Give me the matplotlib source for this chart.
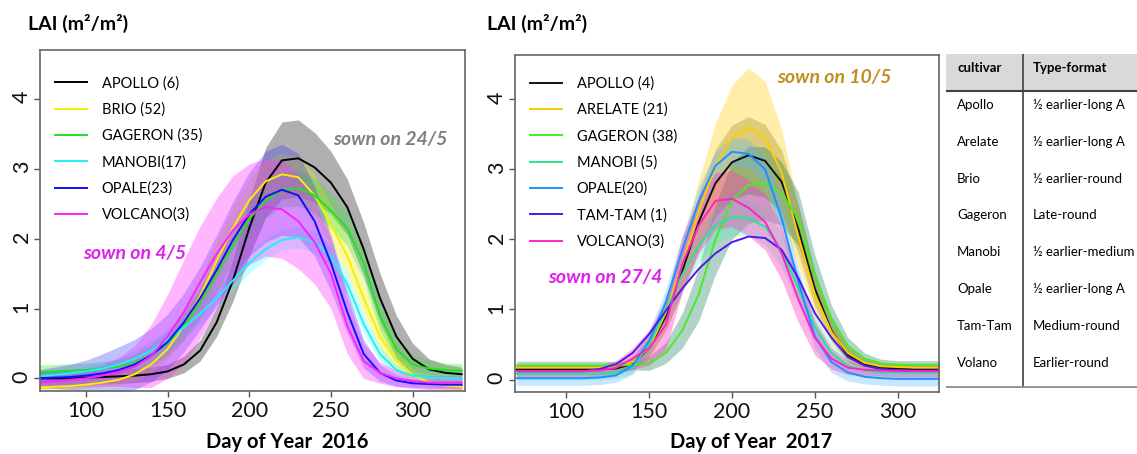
import numpy as np
import matplotlib
matplotlib.use('Agg')
import matplotlib.pyplot as plt

plt.rcParams['font.family'] = ['Lato', 'DejaVu Sans']

# day-of-year grid on which the curves were read (every 10 days)
days = np.arange(70, 331, 10)

# ---- 2016 (mean LAI and spread) ----
apollo16 = [0.0, 0.0, 0.0, 0.01, 0.02, 0.03, 0.04, 0.06, 0.1, 0.2, 0.4, 0.8, 1.4, 2.15, 2.8, 3.12, 3.15, 3.02, 2.8, 2.45, 1.85, 1.15, 0.6, 0.28, 0.13, 0.08, 0.06]
apollo16_sd = [0.1, 0.1, 0.1, 0.1, 0.1, 0.1, 0.1, 0.1, 0.1, 0.12, 0.15, 0.2, 0.3, 0.4, 0.5, 0.55, 0.55, 0.5, 0.45, 0.4, 0.38, 0.35, 0.3, 0.22, 0.15, 0.12, 0.1]
brio16 = [-0.13, -0.12, -0.11, -0.09, -0.06, -0.02, 0.06, 0.2, 0.42, 0.75, 1.18, 1.68, 2.15, 2.55, 2.82, 2.92, 2.88, 2.62, 2.2, 1.75, 1.15, 0.6, 0.25, 0.05, -0.06, -0.1, -0.12]
brio16_sd = [0.05, 0.05, 0.05, 0.05, 0.06, 0.08, 0.1, 0.12, 0.15, 0.2, 0.25, 0.28, 0.3, 0.3, 0.3, 0.3, 0.3, 0.3, 0.28, 0.25, 0.22, 0.2, 0.15, 0.1, 0.06, 0.05, 0.05]
gageron16 = [0.09, 0.1, 0.11, 0.12, 0.14, 0.17, 0.23, 0.33, 0.5, 0.75, 1.08, 1.48, 1.9, 2.28, 2.55, 2.7, 2.72, 2.62, 2.4, 2.15, 1.65, 0.9, 0.42, 0.2, 0.14, 0.12, 0.11]
gageron16_sd = [0.1, 0.1, 0.1, 0.1, 0.1, 0.1, 0.12, 0.15, 0.18, 0.2, 0.22, 0.25, 0.25, 0.25, 0.25, 0.25, 0.25, 0.25, 0.25, 0.25, 0.25, 0.22, 0.18, 0.14, 0.12, 0.1, 0.1]
manobi16 = [0.03, 0.05, 0.07, 0.1, 0.14, 0.2, 0.28, 0.4, 0.55, 0.73, 0.93, 1.15, 1.4, 1.65, 1.85, 1.98, 2.02, 1.95, 1.75, 1.35, 0.78, 0.35, 0.12, 0.04, 0.01, 0.0, 0.0]
manobi16_sd = [0.06, 0.06, 0.06, 0.07, 0.08, 0.1, 0.12, 0.14, 0.15, 0.15, 0.15, 0.15, 0.15, 0.15, 0.15, 0.15, 0.15, 0.15, 0.15, 0.15, 0.13, 0.1, 0.08, 0.06, 0.05, 0.05, 0.05]
opale16 = [0.0, 0.01, 0.02, 0.04, 0.07, 0.12, 0.2, 0.33, 0.52, 0.8, 1.15, 1.55, 1.98, 2.35, 2.6, 2.7, 2.62, 2.25, 1.65, 0.95, 0.35, 0.08, -0.03, -0.07, -0.08, -0.09, -0.09]
opale16_sd = [0.12, 0.15, 0.18, 0.22, 0.28, 0.33, 0.36, 0.38, 0.4, 0.42, 0.45, 0.5, 0.55, 0.6, 0.65, 0.65, 0.6, 0.5, 0.4, 0.3, 0.2, 0.12, 0.08, 0.06, 0.06, 0.05, 0.05]
volcano16 = [-0.05, -0.04, -0.02, 0.0, 0.04, 0.09, 0.17, 0.32, 0.6, 0.95, 1.38, 1.78, 2.12, 2.35, 2.45, 2.42, 2.25, 1.95, 1.5, 0.75, 0.25, 0.08, 0.0, -0.04, -0.06, -0.06, -0.06]
volcano16_sd = [0.1, 0.1, 0.1, 0.12, 0.15, 0.2, 0.3, 0.45, 0.6, 0.75, 0.8, 0.8, 0.78, 0.72, 0.7, 0.7, 0.68, 0.6, 0.5, 0.4, 0.25, 0.15, 0.12, 0.1, 0.1, 0.1, 0.1]

# ---- 2017 ----
apollo17 = [0.15, 0.15, 0.15, 0.15, 0.15, 0.15, 0.16, 0.22, 0.45, 0.9, 1.55, 2.25, 2.8, 3.1, 3.2, 3.12, 2.82, 2.15, 1.3, 0.7, 0.35, 0.22, 0.17, 0.16, 0.15, 0.15, 0.15]
apollo17_sd = [0.06, 0.06, 0.06, 0.06, 0.06, 0.06, 0.06, 0.08, 0.12, 0.2, 0.3, 0.4, 0.48, 0.53, 0.55, 0.52, 0.45, 0.35, 0.25, 0.15, 0.1, 0.07, 0.06, 0.06, 0.06, 0.06, 0.06]
arelate17 = [0.17, 0.17, 0.17, 0.17, 0.17, 0.17, 0.18, 0.25, 0.45, 0.95, 1.65, 2.4, 3.05, 3.45, 3.6, 3.45, 2.95, 2.05, 1.22, 0.68, 0.38, 0.24, 0.19, 0.18, 0.17, 0.17, 0.17]
arelate17_sd = [0.06, 0.06, 0.06, 0.06, 0.06, 0.06, 0.07, 0.1, 0.15, 0.22, 0.32, 0.45, 0.6, 0.75, 0.85, 0.8, 0.62, 0.42, 0.25, 0.15, 0.1, 0.07, 0.06, 0.06, 0.06, 0.06, 0.06]
gageron17 = [0.2, 0.2, 0.2, 0.2, 0.2, 0.2, 0.2, 0.21, 0.23, 0.38, 0.7, 1.22, 2.0, 2.55, 2.78, 2.8, 2.65, 2.3, 1.5, 0.88, 0.48, 0.3, 0.23, 0.21, 0.21, 0.21, 0.21]
gageron17_sd = [0.06, 0.06, 0.06, 0.06, 0.06, 0.06, 0.06, 0.07, 0.1, 0.15, 0.25, 0.38, 0.5, 0.55, 0.55, 0.52, 0.45, 0.38, 0.28, 0.18, 0.12, 0.08, 0.06, 0.06, 0.06, 0.06, 0.06]
manobi17 = [0.08, 0.08, 0.08, 0.08, 0.08, 0.08, 0.1, 0.18, 0.5, 0.98, 1.5, 1.92, 2.2, 2.32, 2.3, 2.18, 1.85, 1.3, 0.75, 0.38, 0.2, 0.13, 0.1, 0.1, 0.1, 0.1, 0.1]
manobi17_sd = [0.08, 0.08, 0.08, 0.08, 0.08, 0.08, 0.08, 0.1, 0.15, 0.2, 0.22, 0.25, 0.25, 0.25, 0.25, 0.25, 0.25, 0.22, 0.18, 0.14, 0.1, 0.08, 0.08, 0.08, 0.08, 0.08, 0.08]
opale17 = [0.02, 0.02, 0.02, 0.02, 0.02, 0.03, 0.06, 0.2, 0.55, 1.1, 1.85, 2.55, 3.05, 3.25, 3.22, 3.0, 2.3, 1.4, 0.62, 0.25, 0.1, 0.04, 0.02, 0.01, 0.01, 0.01, 0.01]
opale17_sd = [0.1, 0.1, 0.1, 0.1, 0.1, 0.1, 0.1, 0.12, 0.15, 0.18, 0.2, 0.2, 0.2, 0.2, 0.2, 0.2, 0.2, 0.2, 0.18, 0.15, 0.12, 0.1, 0.1, 0.1, 0.1, 0.1, 0.1]
tamtam17 = [0.12, 0.12, 0.12, 0.12, 0.12, 0.15, 0.22, 0.38, 0.65, 0.98, 1.3, 1.58, 1.8, 1.96, 2.04, 2.02, 1.85, 1.45, 0.95, 0.6, 0.32, 0.2, 0.15, 0.13, 0.13, 0.13, 0.13]
volcano17 = [0.12, 0.12, 0.12, 0.12, 0.12, 0.13, 0.17, 0.3, 0.45, 0.78, 1.65, 2.2, 2.55, 2.58, 2.45, 2.25, 1.8, 1.15, 0.6, 0.3, 0.17, 0.14, 0.13, 0.12, 0.12, 0.12, 0.12]
volcano17_sd = [0.08, 0.08, 0.08, 0.08, 0.08, 0.08, 0.1, 0.15, 0.25, 0.35, 0.4, 0.4, 0.4, 0.4, 0.4, 0.4, 0.38, 0.33, 0.25, 0.15, 0.1, 0.08, 0.08, 0.08, 0.08, 0.08, 0.08]

labels16 = ['APOLLO (6)', 'BRIO (52)', 'GAGERON (35)', 'MANOBI(17)', 'OPALE(23)', 'VOLCANO(3)']
labels17 = ['APOLLO (4)', 'ARELATE (21)', 'GAGERON (38)', 'MANOBI (5)', 'OPALE(20)', 'TAM-TAM (1)', 'VOLCANO(3)']

cultivars = ['Apollo', 'Arelate', 'Brio', 'Gageron', 'Manobi', 'Opale', 'Tam-Tam', 'Volano']
formats = ['½ earlier-long A', '½ earlier-long A', '½ earlier-round', 'Late-round',
           '½ earlier-medium', '½ earlier-long A', 'Medium-round', 'Earlier-round']


def draw(ax, means, sds, labels, lcolors, fcolors, alphas):
    for m, s, lab, lc, fc, a in zip(means, sds, labels, lcolors, fcolors, alphas):
        m = np.array(m)
        if s is not None:
            s = np.array(s)
            ax.fill_between(days, m - s, m + s, color=fc, alpha=a, lw=0)
        ax.plot(days, m, color=lc, lw=1.4, label=lab, solid_joinstyle='round')


def style(ax, xlim, ylim, anchor):
    ax.set_xlim(*xlim)
    ax.set_ylim(*ylim)
    ax.set_xticks([100, 150, 200, 250, 300])
    ax.set_yticks([0, 1, 2, 3, 4])
    ax.tick_params(direction='out', length=4, width=1, color='#555555',
                   labelcolor='#111111', labelsize=15.5, pad=3)
    ax.tick_params(axis='y', labelrotation=90, pad=2)
    for sp in ax.spines.values():
        sp.set_color('#666666')
        sp.set_linewidth(1.2)
    ax.legend(loc='upper left', bbox_to_anchor=anchor, frameon=False,
              fontsize=10.5, handlelength=2.2, handletextpad=1.0,
              labelspacing=0.82, borderpad=0, borderaxespad=0)


fig = plt.figure(figsize=(11.37, 4.54), dpi=100)
W, H = 1137, 454
ax1 = fig.add_axes([40 / W, 1 - 391 / H, 425 / W, 341 / H])
ax2 = fig.add_axes([515 / W, 1 - 392 / H, 424 / W, 337 / H])

draw(ax1,
     [apollo16, brio16, gageron16, manobi16, opale16, volcano16],
     [apollo16_sd, brio16_sd, gageron16_sd, manobi16_sd, opale16_sd, volcano16_sd],
     labels16,
     ['#000000', '#f2f200', '#22e022', '#22f0f0', '#1010ff', '#ff20ff'],
     ['#7a7a7a', '#f0f000', '#40e040', '#40ffff', '#3030ff', '#ff30ff'],
     [0.6, 0.35, 0.35, 0.3, 0.3, 0.35])
style(ax1, (72, 332), (-0.18, 4.7), (0.035, 0.923))

draw(ax2,
     [apollo17, arelate17, gageron17, manobi17, opale17, tamtam17, volcano17],
     [apollo17_sd, arelate17_sd, gageron17_sd, manobi17_sd, opale17_sd, None, volcano17_sd],
     labels17,
     ['#111111', '#ffcc00', '#44ee22', '#22e890', '#1e90ff', '#4a1aee', '#ff22cc'],
     ['#555500', '#ffd840', '#208060', '#40f0b0', '#60b8ff', '#4a1aee', '#ff40c0'],
     [0.35, 0.45, 0.35, 0.3, 0.35, 0, 0.4])
style(ax2, (69, 325), (-0.177, 4.63), (0.035, 0.936))

for x in (28, 487):
    fig.text(x / W, 1 - 23 / H, 'LAI (m²/m²)', fontsize=14, fontweight='bold',
             ha='left', va='center')
fig.text(287 / W, 1 - 442 / H, 'Day of Year  2016', fontsize=14.5, fontweight='bold',
         ha='center', va='center')
fig.text(751 / W, 1 - 442 / H, 'Day of Year  2017', fontsize=14.5, fontweight='bold',
         ha='center', va='center')

notes = [(333, 140, 'sown on 24/5', '#808080'),
         (83, 254, 'sown on 4/5', '#dd22ee'),
         (548, 277, 'sown on 27/4', '#dd22ee'),
         (777, 77, 'sown on 10/5', '#bf9020')]
for x, y, t, c in notes:
    fig.text(x / W, 1 - y / H, t, fontsize=14, fontweight='bold', style='italic',
             color=c, ha='left', va='center')

# table on the right, drawn in pixel units
tab = fig.add_axes([946 / W, 1 - 388 / H, (W - 946) / W, (388 - 54) / H])
tab.set_xlim(0, W - 946)
tab.set_ylim(388, 54)
tab.axis('off')
tab.fill_between([0, W - 946], 54, 91, color='#d9d9d9', lw=0)
tab.plot([0, W - 946], [91, 91], color='#404040', lw=1.5)
tab.plot([77, 77], [54, 387], color='#404040', lw=1.2)
tab.plot([0, W - 946], [387, 387], color='#909090', lw=2)
tab.text(11, 68, 'cultivar', fontsize=9.5, fontweight='bold', va='center')
tab.text(87, 68, 'Type-format', fontsize=9.5, fontweight='bold', va='center')
for i, (c, f) in enumerate(zip(cultivars, formats)):
    y = 105 + i * 36.8
    tab.text(11, y, c, fontsize=9.5, va='center')
    tab.text(87, y, f, fontsize=9.5, va='center')

fig.savefig('out.png', dpi=100)
